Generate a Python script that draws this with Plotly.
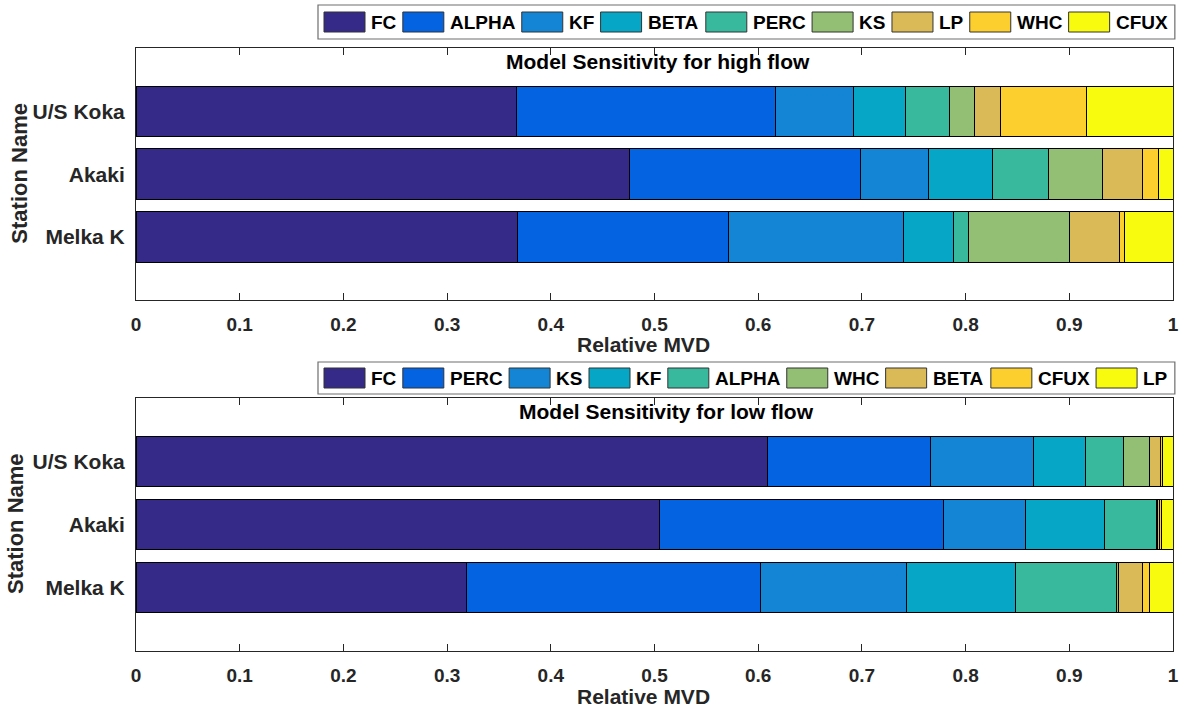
import plotly.graph_objects as go

# ---- data -------------------------------------------------------------
stations = ["U/S Koka", "Akaki", "Melka K"]

high_params = ["FC", "ALPHA", "KF", "BETA", "PERC", "KS", "LP", "WHC", "CFUX"]
high_us_koka = [0.367, 0.250, 0.075, 0.050, 0.042, 0.025, 0.025, 0.083, 0.083]
high_akaki = [0.476, 0.223, 0.065, 0.062, 0.054, 0.052, 0.039, 0.015, 0.014]
high_melka = [0.368, 0.203, 0.169, 0.048, 0.015, 0.097, 0.048, 0.005, 0.047]

low_params = ["FC", "PERC", "KS", "KF", "ALPHA", "WHC", "BETA", "CFUX", "LP"]
low_us_koka = [0.609, 0.157, 0.099, 0.051, 0.036, 0.0255, 0.0105, 0.002, 0.010]
low_akaki = [0.505, 0.2735, 0.079, 0.0765, 0.050, 0.0012, 0.0013, 0.002, 0.0115]
low_melka = [0.3186, 0.2838, 0.141, 0.1045, 0.0977, 0.0023, 0.0224, 0.0071, 0.0226]

x_ticks = [0, 0.1, 0.2, 0.3, 0.4, 0.5, 0.6, 0.7, 0.8, 0.9, 1]
x_ticktext = ["0", "0.1", "0.2", "0.3", "0.4", "0.5", "0.6", "0.7", "0.8", "0.9", "1"]

# parula-like palette, one colour per stack position
palette = ["#352A87", "#0363E1", "#1485D4", "#06A7C6", "#38B99E",
           "#92BF73", "#D9BA56", "#FCCE2E", "#F9FB0E"]

# ---- page geometry (pixels) --------------------------------------------
W, H = 1184, 713
FONT = "Liberation Sans, Arial, sans-serif"
TXT = "#262626"


def px(x):
    return x / W


def py(y):
    return 1 - y / H


panels = [
    dict(params=high_params, rows=[high_us_koka, high_akaki, high_melka],
         title="Model Sensitivity for high flow", top=48.3, bottom=300,
         xa="x", ya="y", leg_top=5, leg_bottom=39, title_x=658, ylab_x=20, xlab_off=44),
    dict(params=low_params, rows=[low_us_koka, low_akaki, low_melka],
         title="Model Sensitivity for low flow", top=398.3, bottom=650.7,
         xa="x2", ya="y2", leg_top=362, leg_bottom=394, title_x=666, ylab_x=15, xlab_off=46),
]
AX_L, AX_R = 136, 1173

fig = go.Figure()
shapes, annotations = [], []

# Arial-bold advance widths (per 1000 em) for legend layout
adv = {"A": 722, "B": 722, "C": 722, "E": 667, "F": 611, "H": 722, "K": 722,
       "L": 611, "P": 667, "R": 722, "S": 667, "T": 611, "U": 722, "W": 944,
       "X": 667}
LEG_FS = 19

for p in panels:
    for i, name in enumerate(p["params"]):
        fig.add_trace(go.Bar(
            x=[row[i] for row in p["rows"]], y=stations, orientation="h",
            name=name, marker=dict(color=palette[i], line=dict(color="black", width=1)),
            xaxis=p["xa"], yaxis=p["ya"], showlegend=False,
            hovertemplate=name + ": %{x}<extra>%{y}</extra>",
        ))

    # legend box with wide swatches
    lt, lb = p["leg_top"], p["leg_bottom"]
    lc = (lt + lb) / 2
    x = 318 + 6
    items = []
    for i, name in enumerate(p["params"]):
        tw = sum(adv[c] for c in name) * LEG_FS / 1000
        items.append((x, name, i))
        x += 41 + 4 + tw + 8.5
    shapes.append(dict(type="rect", xref="paper", yref="paper",
                       x0=px(318), x1=px(x + 1), y0=py(lb), y1=py(lt),
                       line=dict(color="#6e6e6e", width=1.2), fillcolor="white"))
    for x0, name, i in items:
        shapes.append(dict(type="rect", xref="paper", yref="paper",
                           x0=px(x0), x1=px(x0 + 41), y0=py(lc + 10), y1=py(lc - 10),
                           line=dict(color="#333333", width=1), fillcolor=palette[i]))
        annotations.append(dict(x=px(x0 + 45), y=py(lc + 0.5), xref="paper", yref="paper",
                                text="<b>%s</b>" % name, showarrow=False,
                                xanchor="left", yanchor="middle",
                                font=dict(family=FONT, size=LEG_FS, color="black")))

    # title inside the axes
    annotations.append(dict(x=px(p["title_x"]), y=py(p["top"] + 13), xref="paper", yref="paper",
                            text="<b>%s</b>" % p["title"], showarrow=False,
                            xanchor="center", yanchor="middle",
                            font=dict(family=FONT, size=21, color="black")))
    # axis titles
    annotations.append(dict(x=px(643), y=py(p["bottom"] + p["xlab_off"]), xref="paper", yref="paper",
                            text="<b>Relative MVD</b>", showarrow=False,
                            xanchor="center", yanchor="middle",
                            font=dict(family=FONT, size=21, color=TXT)))
    annotations.append(dict(x=px(p["ylab_x"]), y=py((p["top"] + p["bottom"]) / 2 - 0.5),
                            xref="paper", yref="paper", textangle=-90,
                            text="<b>Station Name</b>", showarrow=False,
                            xanchor="center", yanchor="middle",
                            font=dict(family=FONT, size=22, color=TXT)))

axis_common = dict(showline=True, linecolor="#262626", linewidth=1, mirror="ticks",
                   showgrid=False, zeroline=False, automargin=False)

layout_axes = {}
for n, p in enumerate(panels):
    sfx = "" if n == 0 else str(n + 1)
    layout_axes["xaxis" + sfx] = dict(
        axis_common, domain=[px(AX_L), px(AX_R)], range=[0, 1],
        anchor="y" + sfx, tickvals=x_ticks,
        ticktext=["<b>%s</b>" % t for t in x_ticktext],
        ticks="inside", ticklen=7, tickcolor="#262626", ticklabelstandoff=7,
        tickfont=dict(family=FONT, size=19, color=TXT))
    layout_axes["yaxis" + sfx] = dict(
        axis_common, domain=[py(p["bottom"]), py(p["top"])],
        anchor="x" + sfx, type="category", categoryorder="array",
        categoryarray=stations, range=[3, -1], ticks="",
        tickvals=stations, ticktext=["<b>%s</b>" % s for s in stations],
        ticklabelstandoff=6, tickfont=dict(family=FONT, size=21, color=TXT))

fig.update_layout(
    width=W, height=H, margin=dict(l=0, r=0, t=0, b=0),
    paper_bgcolor="white", plot_bgcolor="white",
    barmode="stack", bargap=0.2, showlegend=False,
    shapes=shapes, annotations=annotations, **layout_axes,
)

fig.write_html("out.html")
